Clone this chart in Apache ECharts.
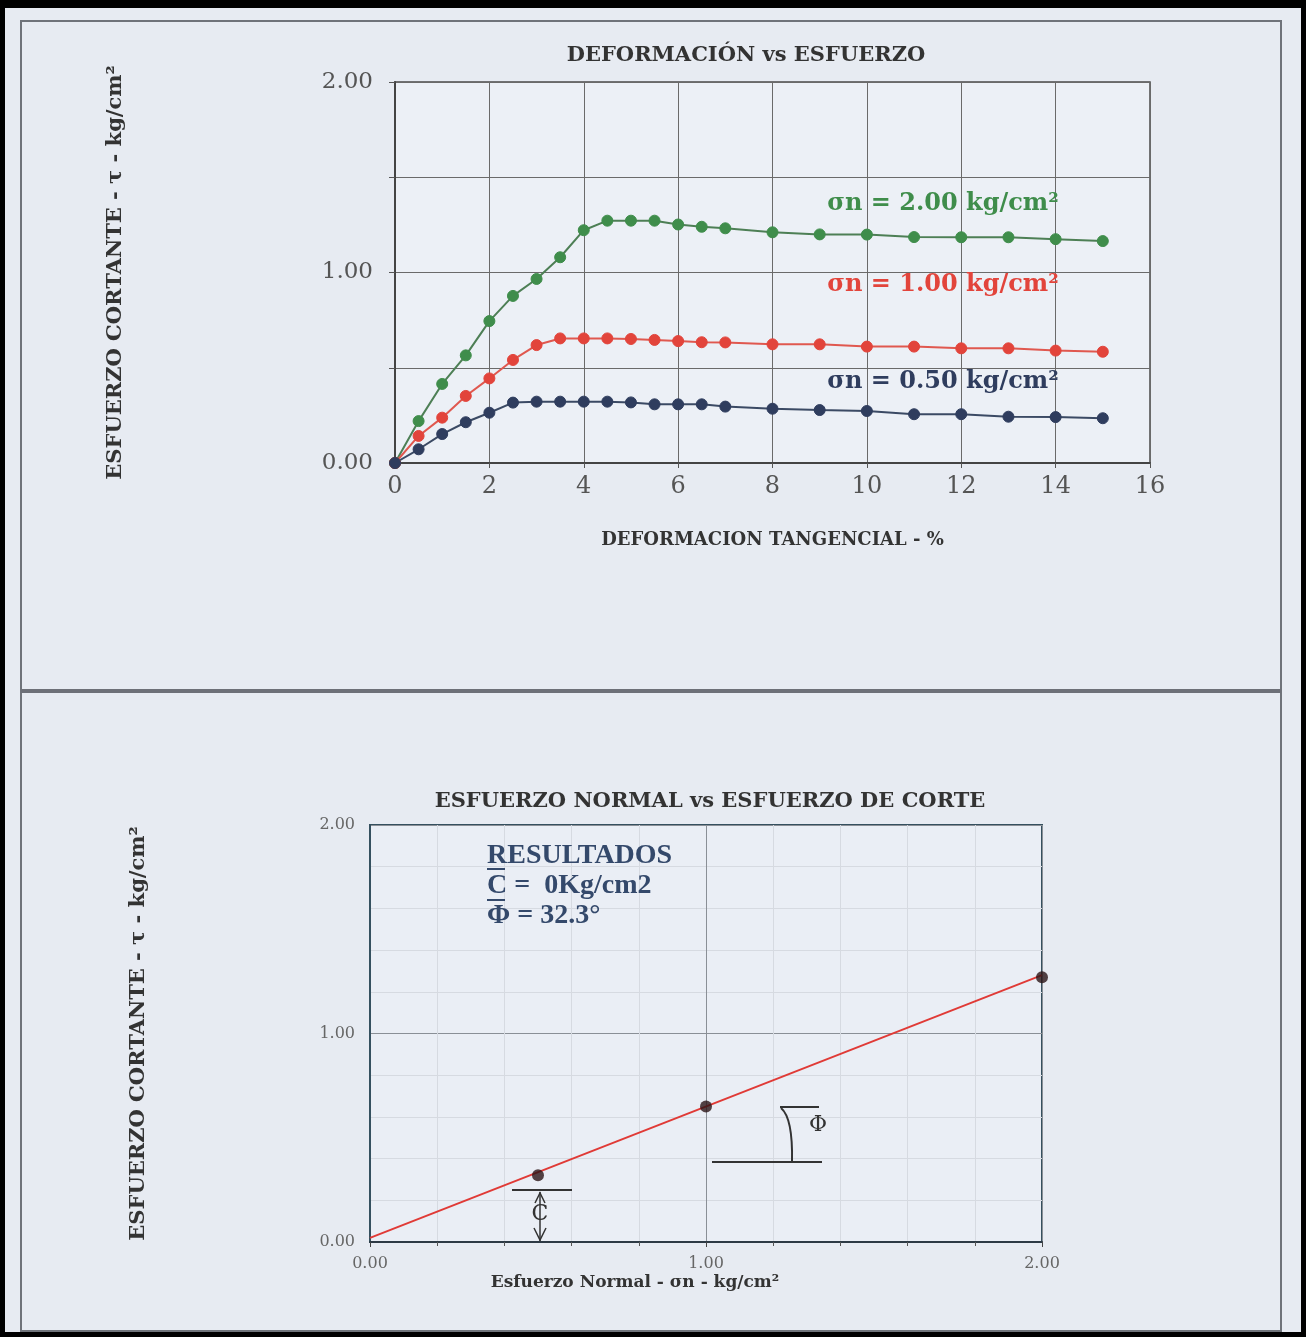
<!DOCTYPE html>
<html><head><meta charset="utf-8">
<script src="https://cdn.jsdelivr.net/npm/echarts@6/dist/echarts.min.js"></script>
<style>html,body{margin:0;padding:0;background:#000;}#c{width:1306px;height:1337px;}</style>
</head><body><div id="c"></div>
<script>
// ---- data ----
const deformation = [0,0.5,1,1.5,2,2.5,3,3.5,4,4.5,5,5.5,6,6.5,7,8,9,10,11,12,13,14,15];
const tau200 = [0,0.22,0.415,0.565,0.745,0.877,0.966,1.08,1.222,1.272,1.272,1.272,1.252,1.24,1.232,1.211,1.200,1.199,1.186,1.185,1.185,1.175,1.165];
const tau100 = [0,0.142,0.238,0.352,0.444,0.541,0.619,0.654,0.654,0.654,0.651,0.646,0.640,0.634,0.633,0.623,0.623,0.611,0.611,0.602,0.602,0.590,0.584];
const tau050 = [0,0.072,0.152,0.214,0.264,0.317,0.322,0.322,0.322,0.322,0.318,0.308,0.308,0.308,0.296,0.285,0.278,0.273,0.256,0.256,0.243,0.241,0.235];
const seriesNames = ['σn = 2.00 kg/cm²','σn = 1.00 kg/cm²','σn = 0.50 kg/cm²'];
const normalStress = [0.5, 1.0, 2.0];
const peakShear = [0.32, 0.65, 1.27];
const envelopeX = [0, 2];
const envelopeY = [0.02, 1.28];
const resultLines = ['RESULTADOS', 'C =  0Kg/cm2', 'Φ = 32.3°'];

const pair = (xs, ys) => xs.map((x, i) => [x, ys[i]]);
const serif = 'DejaVu Serif';
const bg = '#e7ebf2';
const chart = echarts.init(document.getElementById('c'));

const lineSeries = (name, data, color, lineColor) => ({
  name, type: 'line', xAxisIndex: 0, yAxisIndex: 0, data,
  symbol: 'circle', symbolSize: 11, z: 3,
  itemStyle: { color: color, borderColor: color },
  lineStyle: { color: lineColor, width: 2 }
});

chart.setOption({
  backgroundColor: '#000',
  animation: false,
  grid: [
    { left: 395, top: 82, width: 755, height: 381, show: true, backgroundColor: '#ecf0f6', borderColor: '#4a4a4a', borderWidth: 1.5 },
    { left: 370, top: 825, width: 672, height: 417, show: true, backgroundColor: '#eaeef5', borderColor: '#35505f', borderWidth: 2 }
  ],
  xAxis: [
    { gridIndex: 0, type: 'value', min: 0, max: 16, interval: 2,
      name: 'DEFORMACION TANGENCIAL - %', nameLocation: 'middle', nameGap: 68,
      nameTextStyle: { fontFamily: serif, fontWeight: 'bold', fontSize: 18, color: '#333' },
      axisLine: { show: true, onZero: false, lineStyle: { color: '#444', width: 2 } },
      axisTick: { show: true, length: 5, lineStyle: { color: '#555' } },
      axisLabel: { fontFamily: serif, fontSize: 24, color: '#555', margin: 12 },
      splitLine: { show: true, lineStyle: { color: '#6a6a6a', width: 1 } } },
    { gridIndex: 1, type: 'value', min: 0, max: 2, interval: 1,
      axisLine: { show: true, onZero: false, lineStyle: { color: '#2d3a45', width: 2 } },
      axisTick: { show: true, length: 5, lineStyle: { color: '#444' } },
      minorTick: { show: true, splitNumber: 5, length: 4, lineStyle: { color: '#555' } },
      axisLabel: { fontFamily: serif, fontSize: 16, color: '#666', margin: 14, formatter: v => v.toFixed(2) },
      splitLine: { show: true, lineStyle: { color: '#8a8f96', width: 1 } },
      minorSplitLine: { show: true, lineStyle: { color: '#d6dae1', width: 1 } } }
  ],
  yAxis: [
    { gridIndex: 0, type: 'value', min: 0, max: 2, interval: 0.5,
      name: 'ESFUERZO CORTANTE - τ - kg/cm²', nameLocation: 'middle', nameGap: 269, nameRotate: 90,
      nameTextStyle: { fontFamily: serif, fontWeight: 'bold', fontSize: 21, color: '#333' },
      axisLine: { show: true, lineStyle: { color: '#444', width: 2 } },
      axisTick: { show: true, length: 6, lineStyle: { color: '#555' } },
      axisLabel: { fontFamily: serif, fontSize: 23, color: '#555', margin: 22,
        formatter: v => (Math.abs(v % 1) < 1e-9 ? v.toFixed(2) : '') },
      splitLine: { show: true, lineStyle: { color: '#6a6a6a', width: 1 } } },
    { gridIndex: 1, type: 'value', min: 0, max: 2, interval: 1,
      name: 'ESFUERZO CORTANTE - τ - kg/cm²', nameLocation: 'middle', nameGap: 221, nameRotate: 90,
      nameTextStyle: { fontFamily: serif, fontWeight: 'bold', fontSize: 21, color: '#333' },
      axisLine: { show: true, lineStyle: { color: '#35505f', width: 2 } },
      axisTick: { show: false },
      minorTick: { show: false, splitNumber: 5 },
      axisLabel: { fontFamily: serif, fontSize: 16, color: '#666', margin: 15, formatter: v => v.toFixed(2) },
      splitLine: { show: true, lineStyle: { color: '#8a8f96', width: 1 } },
      minorSplitLine: { show: true, lineStyle: { color: '#d6dae1', width: 1 } } }
  ],
  series: [
    lineSeries(seriesNames[0], pair(deformation, tau200), '#3f8d4b', '#4d7f55'),
    lineSeries(seriesNames[1], pair(deformation, tau100), '#e2443b', '#e0584f'),
    lineSeries(seriesNames[2], pair(deformation, tau050), '#2f3d5e', '#3b4a64'),
    { type: 'line', xAxisIndex: 1, yAxisIndex: 1, data: pair(envelopeX, envelopeY),
      symbol: 'none', lineStyle: { color: '#e03a36', width: 2 }, z: 2 },
    { type: 'scatter', xAxisIndex: 1, yAxisIndex: 1, data: pair(normalStress, peakShear),
      symbol: 'circle', symbolSize: 12, itemStyle: { color: '#2a1416' }, z: 3 }
  ]
});

const dark = '#333';
const txt = (x, y, s, style) => ({ type: 'text', x, y, style: Object.assign({ text: s, align: 'center', verticalAlign: 'middle' }, style) });
const resFont = { align: 'left', verticalAlign: 'middle', fontFamily: 'Liberation Serif', fontWeight: 'bold', fontSize: 28, fill: '#34496b' };
chart.setOption({
  graphic: [
    // page frame
    { type: 'rect', z: -10, shape: { x: 5, y: 8, width: 1296, height: 1324 }, style: { fill: bg } },
    { type: 'rect', z: -9, shape: { x: 21, y: 21, width: 1260, height: 1310 }, style: { fill: 'none', stroke: '#6f737a', lineWidth: 2 } },
    { type: 'rect', z: -9, shape: { x: 21, y: 689, width: 1260, height: 4 }, style: { fill: '#6d7078' } },
    // top chart texts
    txt(746, 56, 'DEFORMACIÓN vs ESFUERZO', { fontFamily: serif, fontWeight: 'bold', fontSize: 21, fill: '#333' }),
    txt(943, 204, seriesNames[0], { fontFamily: serif, fontWeight: 'bold', fontSize: 24, fill: '#3f8d4b' }),
    txt(943, 285, seriesNames[1], { fontFamily: serif, fontWeight: 'bold', fontSize: 24, fill: '#e2443b' }),
    txt(943, 382, seriesNames[2], { fontFamily: serif, fontWeight: 'bold', fontSize: 24, fill: '#2f3d5e' }),
    // bottom chart texts
    txt(710, 802, 'ESFUERZO NORMAL vs ESFUERZO DE CORTE', { fontFamily: serif, fontWeight: 'bold', fontSize: 21, fill: '#333' }),
    txt(635, 1283, 'Esfuerzo Normal - σn - kg/cm²', { fontFamily: serif, fontWeight: 'bold', fontSize: 17, fill: '#333' }),
    { type: 'text', x: 487, y: 856, style: Object.assign({ text: resultLines[0] }, resFont) },
    { type: 'text', x: 487, y: 886, style: Object.assign({ text: resultLines[1] }, resFont) },
    { type: 'text', x: 487, y: 916, style: Object.assign({ text: resultLines[2] }, resFont) },
    { type: 'line', shape: { x1: 487, y1: 869, x2: 505, y2: 869 }, style: { stroke: '#34496b', lineWidth: 2 } },
    { type: 'line', shape: { x1: 487, y1: 900, x2: 505, y2: 900 }, style: { stroke: '#34496b', lineWidth: 2 } },
    // Phi annotation
    { type: 'line', shape: { x1: 712, y1: 1162, x2: 822, y2: 1162 }, style: { stroke: dark, lineWidth: 2 } },
    { type: 'line', shape: { x1: 780, y1: 1107, x2: 819, y2: 1107 }, style: { stroke: dark, lineWidth: 2 } },
    { type: 'bezierCurve', shape: { x1: 792, y1: 1162, cpx1: 793, cpy1: 1118, x2: 781, y2: 1108 }, style: { stroke: dark, lineWidth: 2, fill: 'none' } },
    txt(818, 1125, 'Φ', { fontFamily: serif, fontSize: 22, fill: dark }),
    // C annotation
    { type: 'line', shape: { x1: 512, y1: 1190, x2: 572, y2: 1190 }, style: { stroke: dark, lineWidth: 2 } },
    { type: 'line', shape: { x1: 540, y1: 1192, x2: 540, y2: 1241 }, style: { stroke: dark, lineWidth: 1.5 } },
    { type: 'polyline', shape: { points: [[535, 1203], [540, 1193], [545, 1203]] }, style: { stroke: dark, lineWidth: 1.5, fill: 'none' } },
    { type: 'polyline', shape: { points: [[534, 1228], [540, 1240], [546, 1228]] }, style: { stroke: dark, lineWidth: 1.5, fill: 'none' } },
    txt(540, 1214, 'C', { fontFamily: serif, fontSize: 22, fill: dark })
  ]
});
</script></body></html>
